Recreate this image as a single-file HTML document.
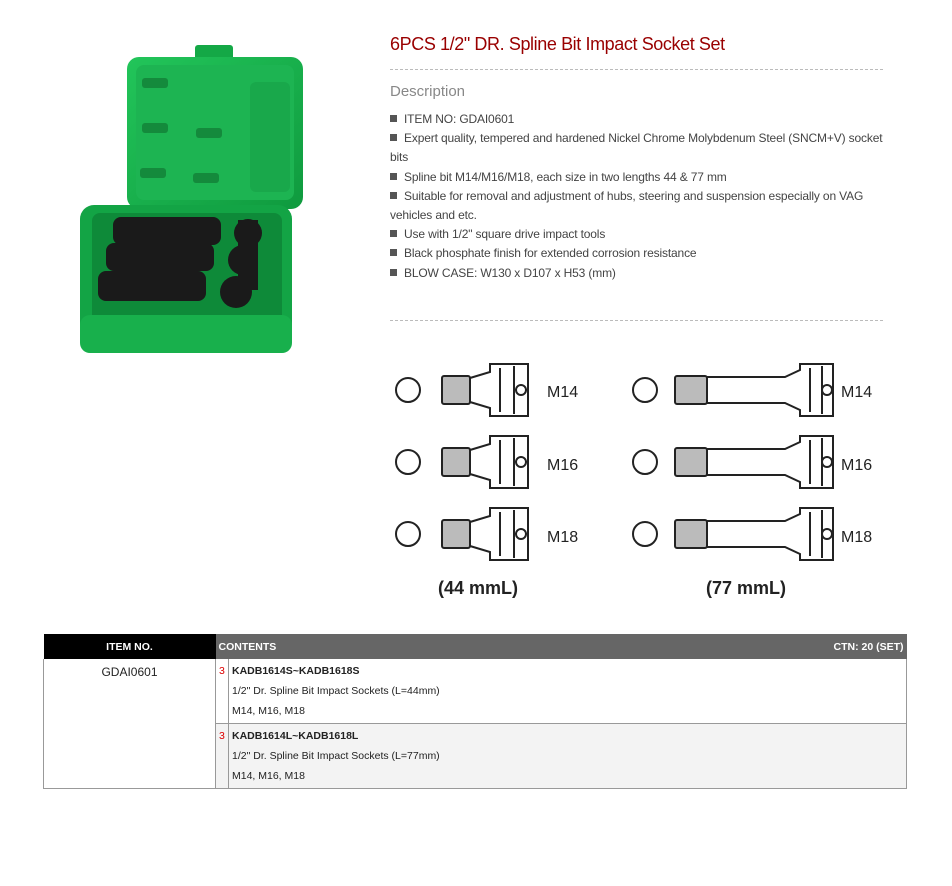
<!DOCTYPE html>
<html><head><meta charset="utf-8"><style>
body{margin:0;width:952px;height:886px;background:#fff;font-family:"Liberation Sans",Arial,sans-serif;position:relative;overflow:hidden}
.a{position:absolute}
h1{position:absolute;left:390px;top:34px;margin:0;font-size:18px;font-weight:normal;color:#990000;letter-spacing:-0.4px}
.dash{position:absolute;left:390px;width:493px;border-top:1px dashed #bbb}
.desc{left:390px;top:83px;font-size:15px;color:#888}
ul{position:absolute;left:390px;top:110px;margin:0;padding:0;list-style:none;width:500px;font-size:12px;color:#444;line-height:19.2px;letter-spacing:-0.15px}
ul li:before{content:"";display:inline-block;width:7px;height:7px;background:#555;margin-right:7px;vertical-align:1px}
table{position:absolute;left:43px;top:634px;width:864px;border-collapse:collapse;font-size:10.5px;color:#222}
th{height:25px;color:#fff;font-size:10.5px;padding:0 3px}
td{vertical-align:top}
</style></head><body>
<svg class="a" style="left:60px;top:30px" width="260" height="340">
<defs><linearGradient id="g" x1="0" y1="0" x2="1" y2="1"><stop offset="0" stop-color="#22c55a"/><stop offset="1" stop-color="#0f9a3e"/></linearGradient></defs>
<rect x="135" y="15" width="38" height="20" rx="3" fill="#14a846"/>
<rect x="67" y="27" width="176" height="152" rx="12" fill="url(#g)"/>
<rect x="76" y="35" width="158" height="135" rx="8" fill="#1db452"/>
<rect x="190" y="52" width="40" height="110" rx="6" fill="#19a84b"/>
<g fill="#148a3c"><rect x="82" y="48" width="26" height="10" rx="3"/><rect x="82" y="93" width="26" height="10" rx="3"/><rect x="136" y="98" width="26" height="10" rx="3"/><rect x="80" y="138" width="26" height="10" rx="3"/><rect x="133" y="143" width="26" height="10" rx="3"/></g>
<rect x="20" y="175" width="212" height="148" rx="14" fill="#13a445"/>
<rect x="32" y="183" width="190" height="110" rx="8" fill="#0e8a39"/>
<rect x="20" y="285" width="212" height="38" rx="10" fill="#18b04c"/>
<g fill="#1a1a1a"><rect x="53" y="187" width="108" height="28" rx="8"/><rect x="46" y="213" width="108" height="28" rx="8"/><rect x="38" y="241" width="108" height="30" rx="8"/>
<circle cx="188" cy="203" r="14"/><circle cx="183" cy="230" r="15"/><circle cx="176" cy="262" r="16"/><rect x="178" y="190" width="20" height="70"/></g>
</svg>
<h1>6PCS 1/2" DR. Spline Bit Impact Socket Set</h1>
<div class="dash" style="top:69px"></div>
<div class="a desc">Description</div>
<ul>
<li>ITEM NO: GDAI0601</li>
<li>Expert quality, tempered and hardened Nickel Chrome Molybdenum Steel (SNCM+V) socket bits</li>
<li>Spline bit M14/M16/M18, each size in two lengths 44 &amp; 77 mm</li>
<li>Suitable for removal and adjustment of hubs, steering and suspension especially on VAG vehicles and etc.</li>
<li>Use with 1/2" square drive impact tools</li>
<li>Black phosphate finish for extended corrosion resistance</li>
<li>BLOW CASE: W130 x D107 x H53 (mm)</li>
</ul>
<div class="dash" style="top:320px"></div>
<svg class="a" style="left:390px;top:360px" width="500" height="245" font-family="Liberation Sans" font-weight="bold" fill="none" stroke="#222" stroke-width="2">
<g id="r">
<circle cx="18" cy="30" r="12"/>
<rect x="52" y="16" width="28" height="28" rx="2" fill="#bbb"/>
<path d="M80 18 L100 12 L100 4 L138 4 L138 56 L100 56 L100 48 L80 42"/>
<line x1="110" y1="8" x2="110" y2="52"/><line x1="124" y1="6" x2="124" y2="54"/>
<circle cx="131" cy="30" r="5"/>
</g>
<use href="#r" y="72"/><use href="#r" y="144"/>
<g id="l">
<circle cx="255" cy="30" r="12"/>
<rect x="285" y="16" width="32" height="28" rx="2" fill="#bbb"/>
<path d="M317 17 L395 17 L410 10 L410 4 L443 4 L443 56 L410 56 L410 50 L395 43 L317 43"/>
<line x1="420" y1="8" x2="420" y2="52"/><line x1="432" y1="6" x2="432" y2="54"/>
<circle cx="437" cy="30" r="5"/>
</g>
<use href="#l" y="72"/><use href="#l" y="144"/>
<g fill="#222" stroke="none" font-size="16" font-weight="normal">
<text x="157" y="37">M14</text><text x="157" y="110">M16</text><text x="157" y="182">M18</text>
<text x="451" y="37">M14</text><text x="451" y="110">M16</text><text x="451" y="182">M18</text>
<text x="48" y="234" font-size="18" font-weight="bold">(44 mmL)</text><text x="316" y="234" font-size="18" font-weight="bold">(77 mmL)</text>
</g>
</svg>
<table>
<tr><th style="background:#000;width:166px;text-align:center">ITEM NO.</th><th colspan="2" style="background:#666;text-align:left">CONTENTS<span style="float:right">CTN: 20 (SET)</span></th></tr>
<tr><td rowspan="2" style="text-align:center;padding-top:6px;font-size:12px;border-left:1px solid #999;border-right:1px solid #999;border-bottom:1px solid #999">GDAI0601</td>
<td style="width:6px;color:#d00;padding:6px 3px;border-right:1px solid #999;border-bottom:1px solid #999">3</td>
<td style="line-height:20px;padding:2px 3px;border-right:1px solid #999;border-bottom:1px solid #999"><b>KADB1614S~KADB1618S</b><br>1/2" Dr. Spline Bit Impact Sockets (L=44mm)<br>M14, M16, M18</td></tr>
<tr style="background:#f3f3f3"><td style="color:#d00;padding:6px 3px;border-right:1px solid #999;border-bottom:1px solid #999">3</td>
<td style="line-height:20px;padding:2px 3px;border-right:1px solid #999;border-bottom:1px solid #999"><b>KADB1614L~KADB1618L</b><br>1/2" Dr. Spline Bit Impact Sockets (L=77mm)<br>M14, M16, M18</td></tr>
</table>
</body></html>
